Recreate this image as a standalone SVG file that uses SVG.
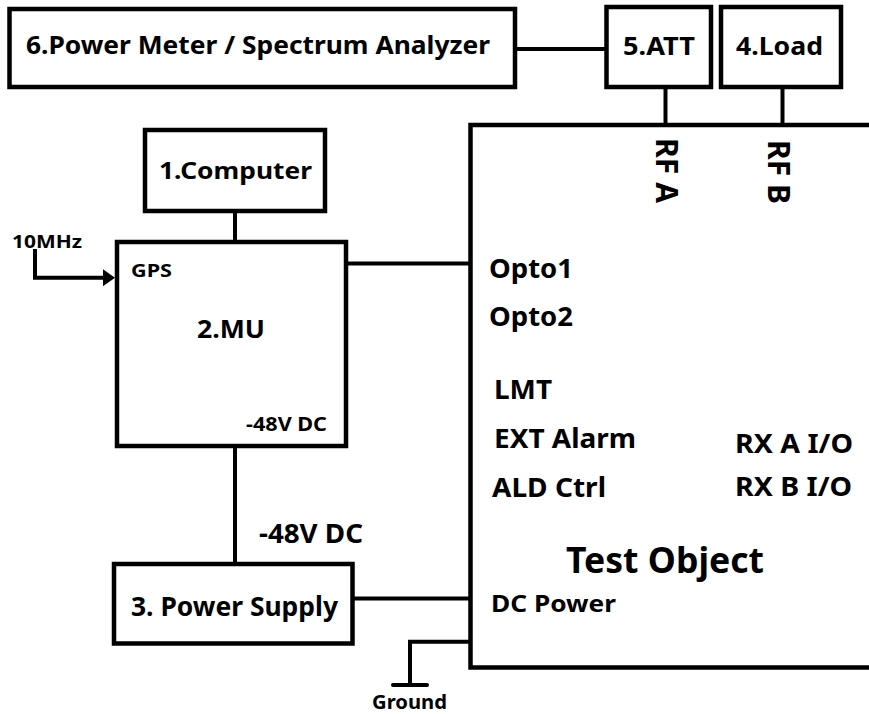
<svg xmlns="http://www.w3.org/2000/svg" width="869" height="714" viewBox="0 0 869 714">
<style>
.b{fill:#fff;stroke:#000;stroke-width:4.5}
.c{fill:none;stroke:#000;stroke-width:4}
text{font-family:"Noto Sans","DejaVu Sans",sans-serif;font-weight:bold;fill:#000}
</style>
<defs>
<marker id="ah" markerUnits="userSpaceOnUse" markerWidth="12" markerHeight="17" viewBox="0 0 12 17" refX="0" refY="8.5" orient="auto">
<path d="M0,0 L12,8.5 L0,17 Z" fill="#000"/>
</marker>
</defs>
<rect width="869" height="714" fill="#fff"/>
<g id="connectors">
<path class="c" d="M515,49 H606.5"/>
<path class="c" d="M665.5,87 V125"/>
<path class="c" d="M782.5,87 V125"/>
<path class="c" d="M235,211 V242"/>
<path class="c" d="M346,263.5 H470.5"/>
<path class="c" d="M235,446 V564"/>
<path class="c" d="M353,598.5 H470.5"/>
<path class="c" d="M470.5,641.7 H410 V685"/>
<path class="c" d="M393,685 H427" stroke-linecap="round"/>
<path class="c" d="M35,249 V277.7 H103" marker-end="url(#ah)"/>
</g>
<g id="n6">
<rect class="b" x="9.5" y="9" width="505.5" height="78"/>
<text x="26" y="54" font-size="25" textLength="464" lengthAdjust="spacingAndGlyphs">6.Power Meter / Spectrum Analyzer</text>
</g>
<g id="n5">
<rect class="b" x="606.5" y="7" width="104.5" height="80"/>
<text x="623" y="55" font-size="25" textLength="72" lengthAdjust="spacingAndGlyphs">5.ATT</text>
</g>
<g id="n4">
<rect class="b" x="721" y="7" width="120" height="80"/>
<text x="736" y="55" font-size="25" textLength="87" lengthAdjust="spacingAndGlyphs">4.Load</text>
</g>
<g id="test">
<rect class="b" x="470.5" y="125" width="450" height="542.5"/>
<text transform="translate(656,138) rotate(90)" font-size="31" textLength="65" lengthAdjust="spacingAndGlyphs">RF A</text>
<text transform="translate(768,140) rotate(90)" font-size="31" textLength="64" lengthAdjust="spacingAndGlyphs">RF B</text>
<text x="489" y="278" font-size="26" textLength="84" lengthAdjust="spacingAndGlyphs">Opto1</text>
<text x="489" y="326" font-size="26" textLength="84" lengthAdjust="spacingAndGlyphs">Opto2</text>
<text x="494" y="399" font-size="26" textLength="58" lengthAdjust="spacingAndGlyphs">LMT</text>
<text x="494" y="448" font-size="26" textLength="142" lengthAdjust="spacingAndGlyphs">EXT Alarm</text>
<text x="492" y="497" font-size="26" textLength="114" lengthAdjust="spacingAndGlyphs">ALD Ctrl</text>
<text x="735" y="453" font-size="26" textLength="118" lengthAdjust="spacingAndGlyphs">RX A I/O</text>
<text x="735" y="496" font-size="26" textLength="117" lengthAdjust="spacingAndGlyphs">RX B I/O</text>
<text x="566" y="573" font-size="35" textLength="198" lengthAdjust="spacingAndGlyphs">Test Object</text>
<text x="491" y="612" font-size="23" textLength="125" lengthAdjust="spacingAndGlyphs">DC Power</text>
</g>
<g id="n1">
<rect class="b" x="145" y="130" width="180" height="81"/>
<text x="159" y="179" font-size="23" textLength="153" lengthAdjust="spacingAndGlyphs">1.Computer</text>
</g>
<g id="n2">
<rect class="b" x="117" y="242" width="229" height="204"/>
<text x="131" y="277" font-size="18" textLength="41" lengthAdjust="spacingAndGlyphs">GPS</text>
<text x="197" y="338" font-size="25" textLength="68" lengthAdjust="spacingAndGlyphs">2.MU</text>
<text x="246" y="431" font-size="19" textLength="81" lengthAdjust="spacingAndGlyphs">-48V DC</text>
</g>
<g id="n3">
<rect class="b" x="114" y="564" width="238.5" height="79.5"/>
<text x="131" y="616" font-size="26" textLength="207" lengthAdjust="spacingAndGlyphs">3. Power Supply</text>
</g>
<g id="labels">
<text x="12" y="248" font-size="18" textLength="70" lengthAdjust="spacingAndGlyphs">10MHz</text>
<text x="259" y="543" font-size="26" textLength="104" lengthAdjust="spacingAndGlyphs">-48V DC</text>
<text x="372" y="709" font-size="20" textLength="75" lengthAdjust="spacingAndGlyphs">Ground</text>
</g>
</svg>
